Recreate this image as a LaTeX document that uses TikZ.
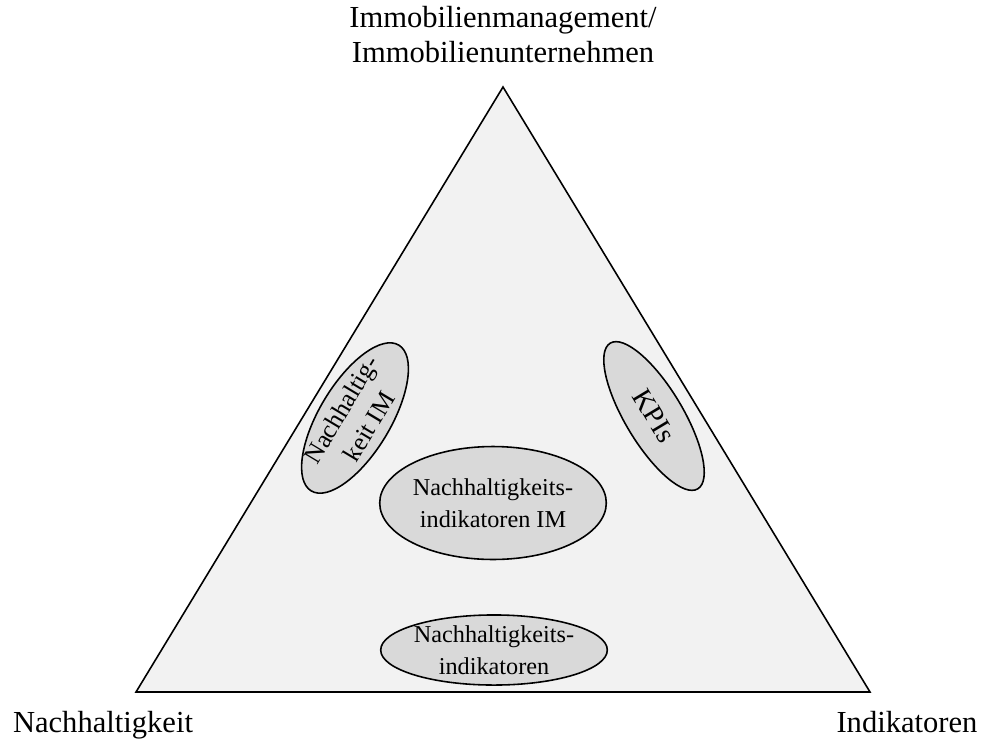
\documentclass[tikz,border=0pt]{standalone}
\usepackage{fontspec}
\setmainfont{Liberation Serif}
\usetikzlibrary{shapes.geometric}
\begin{document}
\begin{tikzpicture}[x=0.02cm,y=-0.02cm,
  corner/.style={font=\fontsize{17.4}{20}\selectfont, align=center, inner sep=0pt},
  blob/.style={ellipse, draw=black, line width=0.9pt, fill=ellfill, inner sep=0pt,
    align=center, font=\fontsize{13.8}{18.5}\selectfont}]
\definecolor{trifill}{HTML}{F2F2F2}
\definecolor{ellfill}{HTML}{D9D9D9}
\useasboundingbox (0,0) rectangle (982,740);

% triangle corners
\coordinate (top) at (503,87);
\coordinate (bl) at (136,692);
\coordinate (br) at (870,692);
\draw[line width=0.9pt, fill=trifill, line join=miter] (top) -- (bl) -- (br) -- cycle;

% corner labels (base anchor sits on the last line)
\node[corner, anchor=base] (lim) at (503,63) {Immobilienmanagement/\\Immobilienunternehmen};
\node[corner, anchor=base] (lnh) at (103,732) {Nachhaltigkeit};
\node[corner, anchor=base] (lind) at (907,732) {Indikatoren};

% overlap regions
\node[blob, minimum width=3.3cm, minimum height=1.2cm, rotate=59,
  font=\fontsize{14.5}{18.5}\selectfont] (nim) at (355,418) {Nachhaltig-\\keit IM};
\node[blob, minimum width=3.4cm, minimum height=1.15cm, rotate=-59,
  font=\fontsize{16}{18.5}\selectfont] (kpi) at (654,416) {KPIs};
\node[blob, minimum width=4.2cm, minimum height=2.26cm] (nhim) at (493,503) {Nachhaltigkeits-\\indikatoren IM};
\node[blob, minimum width=4.24cm, minimum height=1.32cm] (nhi) at (494,650) {Nachhaltigkeits-\\indikatoren};
\end{tikzpicture}
\end{document}
